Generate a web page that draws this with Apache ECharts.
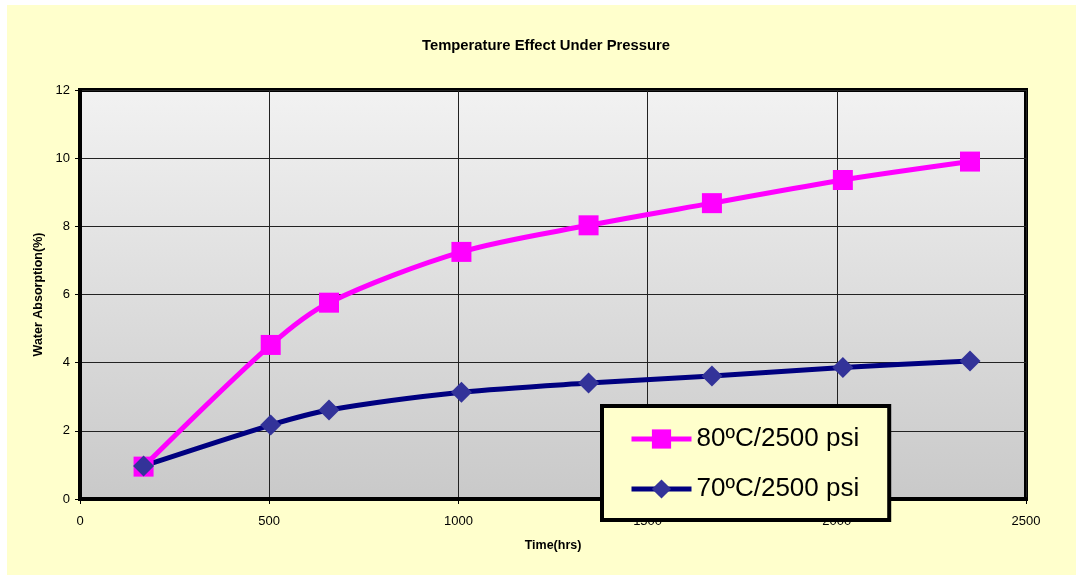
<!DOCTYPE html>
<html>
<head>
<meta charset="utf-8">
<script src="https://cdn.jsdelivr.net/npm/echarts@6/dist/echarts.min.js"></script>
<style>
html,body{margin:0;padding:0;background:#fff;}
#main{width:1076px;height:575px;}
</style>
</head>
<body>
<div id="main"></div>
<script>
const hours = [168, 504, 658, 1008, 1344, 1670, 2016, 2352];
const series80 = [0.95, 4.52, 5.76, 7.25, 8.03, 8.68, 9.36, 9.90];
const series70 = [0.97, 2.17, 2.61, 3.13, 3.40, 3.61, 3.86, 4.05];
const seriesNames = ['80ºC/2500 psi', '70ºC/2500 psi'];
const xTicks = [0, 500, 1000, 1500, 2000, 2500];
const yTicks = [0, 2, 4, 6, 8, 10, 12];

const FONT = '"Liberation Sans", Arial, sans-serif';
const chart = echarts.init(document.getElementById('main'));
const pair = (xs, ys) => xs.map((x, i) => [x, ys[i]]);

chart.setOption({
  backgroundColor: '#ffffff',
  animation: false,
  graphic: [{
    type: 'rect', z: -100, left: 7, top: 5,
    shape: {width: 1069, height: 570},
    style: {fill: '#FFFFCC'}
  }],
  title: {
    text: 'Temperature Effect Under Pressure',
    left: 422, top: 38, padding: 0,
    textStyle: {fontFamily: FONT, fontSize: 14.8, fontWeight: 'bold', color: '#000'}
  },
  grid: {
    left: 80, right: 50, top: 90, bottom: 76,
    show: true,
    backgroundColor: new echarts.graphic.LinearGradient(0, 0, 0, 1, [
      {offset: 0, color: '#F2F2F2'}, {offset: 1, color: '#C9C9C9'}
    ]),
    borderColor: '#000', borderWidth: 4
  },
  xAxis: {
    type: 'value', min: xTicks[0], max: xTicks[xTicks.length - 1], interval: 500,
    name: 'Time(hrs)', nameLocation: 'middle', nameGap: 40,
    nameTextStyle: {fontFamily: FONT, fontSize: 12.5, fontWeight: 'bold', color: '#000'},
    axisLine: {lineStyle: {color: '#000', width: 4}},
    axisTick: {show: true, length: 5, lineStyle: {color: '#000'}},
    axisLabel: {fontFamily: FONT, fontSize: 13, color: '#000', margin: 16,
      formatter: v => String(v)},
    splitLine: {show: true, lineStyle: {color: '#222', width: 1}}
  },
  yAxis: {
    type: 'value', min: yTicks[0], max: yTicks[yTicks.length - 1], interval: 2,
    name: 'Water Absorption(%)', nameLocation: 'middle', nameGap: 33, nameRotate: 90,
    nameTextStyle: {fontFamily: FONT, fontSize: 12.5, fontWeight: 'bold', color: '#000'},
    axisLine: {show: true, lineStyle: {color: '#000', width: 4}},
    axisTick: {show: true, length: 5, lineStyle: {color: '#000'}},
    axisLabel: {fontFamily: FONT, fontSize: 13, color: '#000', margin: 10,
      formatter: v => String(v)},
    splitLine: {show: true, lineStyle: {color: '#222', width: 1}}
  },
  legend: {
    orient: 'vertical', left: 602, top: 406,
    backgroundColor: '#FFFFCC', borderColor: '#000', borderWidth: 4,
    padding: [20, 30, 18, 27], itemGap: 24, itemWidth: 60, itemHeight: 24,
    lineStyle: {width: 5},
    textStyle: {fontFamily: FONT, fontSize: 26, color: '#000'},
    data: seriesNames
  },
  series: [
    {
      name: seriesNames[0], type: 'line', data: pair(hours, series80),
      smooth: 0.3, symbol: 'rect', symbolSize: 20,
      lineStyle: {color: '#FF00FF', width: 5},
      itemStyle: {color: '#FF00FF'}
    },
    {
      name: seriesNames[1], type: 'line', data: pair(hours, series70),
      smooth: 0.3, symbol: 'diamond', symbolSize: 21,
      lineStyle: {color: '#000080', width: 5},
      itemStyle: {color: '#333399'}
    }
  ]
});
</script>
</body>
</html>
